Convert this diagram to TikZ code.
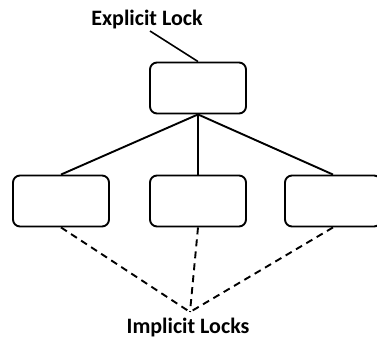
\documentclass[tikz,border=0pt]{standalone}
\usepackage{fontspec}
\setmainfont{Carlito}
\begin{document}
\begin{tikzpicture}[x=1pt,y=-1pt,
  lockbox/.style={draw,line width=1.9pt,rounded corners=7pt,minimum width=96pt,minimum height=51pt,inner sep=0pt},
  tree/.style={line width=1.9pt},
  implicit/.style={line width=1.9pt,dash pattern=on 7pt off 5pt},
  lbl/.style={font=\fontsize{22}{24}\selectfont\bfseries,inner sep=0pt}]
\useasboundingbox (0,0) rectangle (377,339);
% hierarchy of lockable items
\node[lockbox] (root) at (198,88) {};
\node[lockbox] (left) at (61,201) {};
\node[lockbox] (mid) at (198,201) {};
\node[lockbox] (right) at (333,201) {};
\draw[tree] (root.south) -- (left.north);
\draw[tree] (root.south) -- (mid.north);
\draw[tree] (root.south) -- (right.north);
% labels
\node[lbl] (expl) at (147,20) {Explicit Lock};
\coordinate (explend) at (150,31);
\draw[line width=1.6pt] (explend) -- (root.north);
\coordinate (meet) at (190,312);
\node[lbl] (impl) at (188,328) {Implicit Locks};
\draw[implicit] (left.south) -- (meet);
\draw[implicit] (mid.south) -- (meet);
\draw[implicit] (right.south) -- (meet);
\end{tikzpicture}
\end{document}
